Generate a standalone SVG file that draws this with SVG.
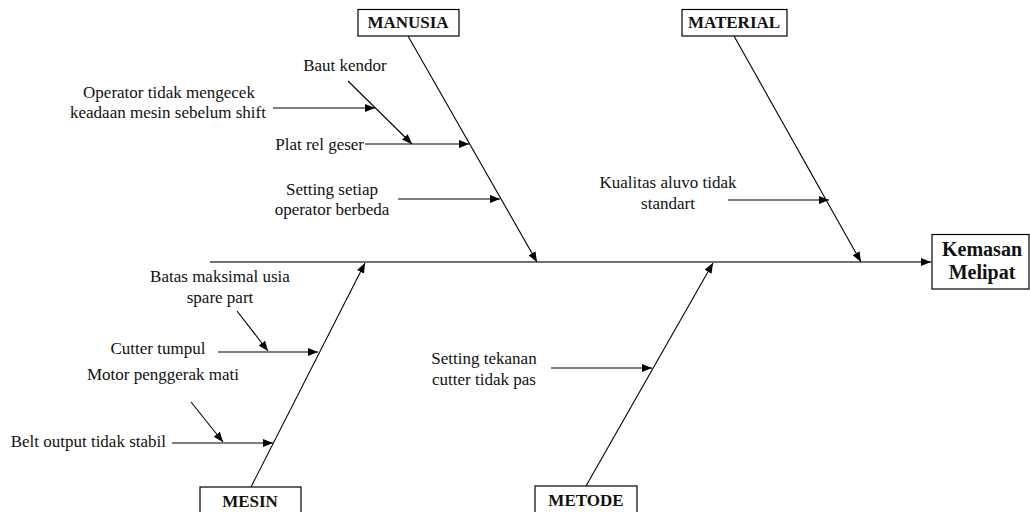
<svg xmlns="http://www.w3.org/2000/svg" width="1030" height="512" viewBox="0 0 1030 512">
<style>
.t{font-family:"Liberation Serif","Times New Roman",serif;font-size:17px;fill:#111}
.c{text-anchor:middle}
.b{font-weight:bold}
.box{fill:#fff;stroke:#000;stroke-width:1.2}
.ln{stroke:#000;stroke-width:1.1;fill:none}
.sp{stroke:#444;stroke-width:1.6;fill:none}
</style>
<defs>
<marker id="ah" viewBox="0 0 10 8" refX="10" refY="4" markerWidth="10" markerHeight="8" markerUnits="userSpaceOnUse" orient="auto">
<path d="M0,0 L10,4 L0,8 z" fill="#000"/>
</marker>
</defs>
<rect width="1030" height="512" fill="#fff"/>
<g id="connectors">
<line class="sp" x1="210" y1="262" x2="931" y2="262" marker-end="url(#ah)"/>
<line class="ln" x1="408" y1="36" x2="537" y2="262" marker-end="url(#ah)"/>
<line class="ln" x1="734" y1="36" x2="861" y2="262" marker-end="url(#ah)"/>
<line class="ln" x1="251" y1="487" x2="365" y2="263" marker-end="url(#ah)"/>
<line class="ln" x1="586" y1="486" x2="713" y2="263" marker-end="url(#ah)"/>
<line class="ln" x1="365" y1="144" x2="469" y2="144" marker-end="url(#ah)"/>
<line class="ln" x1="348" y1="81" x2="412" y2="144" marker-end="url(#ah)"/>
<line class="ln" x1="273" y1="108" x2="375" y2="108" marker-end="url(#ah)"/>
<line class="ln" x1="398" y1="199" x2="500" y2="199" marker-end="url(#ah)"/>
<line class="ln" x1="728" y1="200" x2="829" y2="200" marker-end="url(#ah)"/>
<line class="ln" x1="218" y1="352" x2="318" y2="352" marker-end="url(#ah)"/>
<line class="ln" x1="237" y1="311" x2="268" y2="351" marker-end="url(#ah)"/>
<line class="ln" x1="172" y1="443" x2="273" y2="443" marker-end="url(#ah)"/>
<line class="ln" x1="191" y1="402" x2="223" y2="442" marker-end="url(#ah)"/>
<line class="ln" x1="551" y1="368" x2="652" y2="368" marker-end="url(#ah)"/>
</g>
<g id="manusia"><rect class="box" x="358" y="9.5" width="101" height="26.5"/><text class="t c b" x="408" y="28">MANUSIA</text></g>
<g id="material"><rect class="box" x="682" y="9.5" width="105" height="26.5"/><text class="t c b" x="734" y="28">MATERIAL</text></g>
<g id="mesin"><rect class="box" x="200" y="487" width="101" height="30"/><text class="t c b" x="250" y="507">MESIN</text></g>
<g id="metode"><rect class="box" x="535" y="486" width="102" height="30"/><text class="t c b" x="586" y="506">METODE</text></g>
<g id="effect"><rect class="box" x="932" y="234.5" width="97" height="54.5"/><text class="t c b" x="982" y="256" style="font-size:20px">Kemasan</text><text class="t c b" x="982" y="279" style="font-size:20px">Melipat</text></g>
<g id="cause-baut"><text class="t c" x="345" y="71">Baut kendor</text></g>
<g id="cause-operator"><text class="t c" x="169" y="98">Operator tidak mengecek</text><text class="t c" x="168" y="118">keadaan mesin sebelum shift</text></g>
<g id="cause-plat"><text class="t" x="364" y="150" text-anchor="end">Plat rel geser</text></g>
<g id="cause-setting"><text class="t c" x="332" y="195">Setting setiap</text><text class="t c" x="332" y="215">operator berbeda</text></g>
<g id="cause-kualitas"><text class="t c" x="668" y="188">Kualitas aluvo tidak</text><text class="t c" x="668" y="209">standart</text></g>
<g id="cause-batas"><text class="t c" x="220" y="282">Batas maksimal usia</text><text class="t c" x="220" y="303">spare part</text></g>
<g id="cause-cutter"><text class="t c" x="158" y="354">Cutter tumpul</text></g>
<g id="cause-motor"><text class="t c" x="163" y="380">Motor penggerak mati</text></g>
<g id="cause-belt"><text class="t" x="166" y="447" text-anchor="end">Belt output tidak stabil</text></g>
<g id="cause-tekanan"><text class="t c" x="484" y="364">Setting tekanan</text><text class="t c" x="484" y="385">cutter tidak pas</text></g>
</svg>
